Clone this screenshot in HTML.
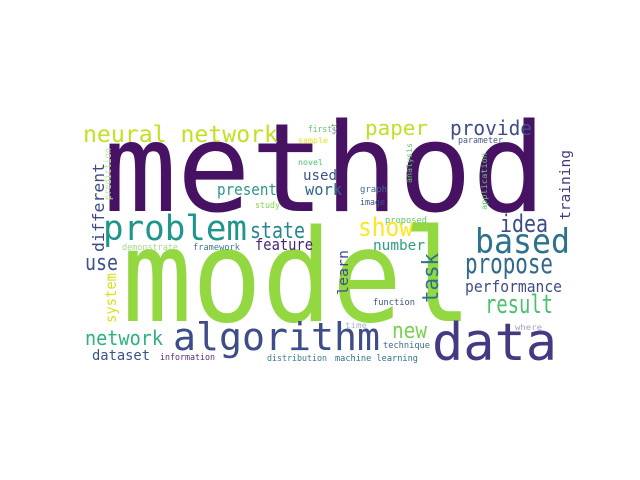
<!DOCTYPE html>
<html><head><meta charset="utf-8"><style>html,body{margin:0;padding:0;background:#fff}svg{display:block}text{font-family:"DejaVu Sans Mono","Liberation Mono",monospace}</style></head>
<body>
<svg width="640" height="480" viewBox="0 0 640 480" xmlns="http://www.w3.org/2000/svg">
<rect width="640" height="480" fill="#fff"/>
<g lengthAdjust="spacingAndGlyphs">
<text x="103" y="211" font-size="123" fill="#471164" textLength="443" lengthAdjust="spacingAndGlyphs">method</text>
<text x="122" y="321" font-size="128" fill="#93d741" textLength="350" lengthAdjust="spacingAndGlyphs">model</text>
<text x="83" y="142" font-size="23" fill="#c6e021" textLength="195" lengthAdjust="spacingAndGlyphs">neural network</text>
<text x="103" y="240" font-size="35" fill="#1f968b" textLength="144" lengthAdjust="spacingAndGlyphs">problem</text>
<text x="250" y="238" font-size="22" fill="#24878e" textLength="55" lengthAdjust="spacingAndGlyphs">state</text>
<text x="255" y="250" font-size="16" fill="#482475" textLength="58" lengthAdjust="spacingAndGlyphs">feature</text>
<text transform="translate(104,252) rotate(-90)" font-size="16" fill="#3e4989" textLength="89" lengthAdjust="spacingAndGlyphs">different</text>
<text transform="translate(111,200) rotate(-90)" font-size="10" fill="#bfe3a0" textLength="52" lengthAdjust="spacingAndGlyphs">prediction</text>
<text x="85" y="270" font-size="22" fill="#3b528b" textLength="33" lengthAdjust="spacingAndGlyphs">use</text>
<text transform="translate(116,323) rotate(-90)" font-size="15" fill="#d8e219" textLength="50" lengthAdjust="spacingAndGlyphs">system</text>
<text x="85" y="345" font-size="20" fill="#2db27d" textLength="78" lengthAdjust="spacingAndGlyphs">network</text>
<text x="92" y="360" font-size="14" fill="#3b528b" textLength="58" lengthAdjust="spacingAndGlyphs">dataset</text>
<text x="160" y="360" font-size="9" fill="#5c2d7e" textLength="55" lengthAdjust="spacingAndGlyphs">information</text>
<text x="122" y="250" font-size="9" fill="#a5dc8a" textLength="56" lengthAdjust="spacingAndGlyphs">demonstrate</text>
<text x="193" y="250" font-size="9" fill="#3e7a8e" textLength="47" lengthAdjust="spacingAndGlyphs">framework</text>
<text x="173" y="350" font-size="38" fill="#3e4c8a" textLength="207" lengthAdjust="spacingAndGlyphs">algorithm</text>
<text x="217" y="195" font-size="16" fill="#2a968b" textLength="60" lengthAdjust="spacingAndGlyphs">present</text>
<text x="303" y="180" font-size="14" fill="#3b528b" textLength="34" lengthAdjust="spacingAndGlyphs">used</text>
<text x="305" y="195" font-size="16" fill="#31688e" textLength="37" lengthAdjust="spacingAndGlyphs">work</text>
<text x="308" y="132" font-size="9" fill="#5ec962" textLength="24" lengthAdjust="spacingAndGlyphs">first</text>
<text transform="translate(337,135) rotate(-90)" font-size="8" fill="#6a7a8e" textLength="12" lengthAdjust="spacingAndGlyphs">set</text>
<text x="298" y="143" font-size="8" fill="#e5e419" textLength="30" lengthAdjust="spacingAndGlyphs">sample</text>
<text x="298" y="165" font-size="8" fill="#4ac16d" textLength="25" lengthAdjust="spacingAndGlyphs">novel</text>
<text x="255" y="208" font-size="9" fill="#86d549" textLength="25" lengthAdjust="spacingAndGlyphs">study</text>
<text x="365" y="135" font-size="20" fill="#c2df23" textLength="63" lengthAdjust="spacingAndGlyphs">paper</text>
<text x="450" y="135" font-size="20" fill="#3e4c8a" textLength="82" lengthAdjust="spacingAndGlyphs">provide</text>
<text x="458" y="143" font-size="9" fill="#46568c" textLength="45" lengthAdjust="spacingAndGlyphs">parameter</text>
<text transform="translate(412,183) rotate(-90)" font-size="8" fill="#5ec962" textLength="40" lengthAdjust="spacingAndGlyphs">analysis</text>
<text x="360" y="192" font-size="9" fill="#3e6a8d" textLength="27" lengthAdjust="spacingAndGlyphs">graph</text>
<text x="360" y="205" font-size="9" fill="#3b528b" textLength="25" lengthAdjust="spacingAndGlyphs">image</text>
<text transform="translate(487,210) rotate(-90)" font-size="8" fill="#5ec962" textLength="57" lengthAdjust="spacingAndGlyphs">application</text>
<text transform="translate(570,220) rotate(-90)" font-size="14" fill="#443a83" textLength="70" lengthAdjust="spacingAndGlyphs">training</text>
<text x="385" y="223" font-size="9" fill="#5ec962" textLength="42" lengthAdjust="spacingAndGlyphs">proposed</text>
<text x="358" y="236" font-size="26" fill="#fde725" textLength="55" lengthAdjust="spacingAndGlyphs">show</text>
<text x="500" y="232" font-size="24" fill="#3e4c8a" textLength="48" lengthAdjust="spacingAndGlyphs">idea</text>
<text x="475" y="253" font-size="34" fill="#2c728e" textLength="95" lengthAdjust="spacingAndGlyphs">based</text>
<text x="373" y="250" font-size="14" fill="#2ca07f" textLength="52" lengthAdjust="spacingAndGlyphs">number</text>
<text transform="translate(348,295) rotate(-90)" font-size="14" fill="#3e4c8a" textLength="45" lengthAdjust="spacingAndGlyphs">learn</text>
<text transform="translate(438,303) rotate(-90)" font-size="22" fill="#2c728e" textLength="50" lengthAdjust="spacingAndGlyphs">task</text>
<text x="465" y="273" font-size="28" fill="#31688e" textLength="88" lengthAdjust="spacingAndGlyphs">propose</text>
<text x="465" y="292" font-size="16" fill="#3e4c8a" textLength="97" lengthAdjust="spacingAndGlyphs">performance</text>
<text x="485" y="313" font-size="26" fill="#4ac16d" textLength="68" lengthAdjust="spacingAndGlyphs">result</text>
<text x="373" y="305" font-size="9" fill="#3b528b" textLength="42" lengthAdjust="spacingAndGlyphs">function</text>
<text x="392" y="338" font-size="22" fill="#7ad151" textLength="35" lengthAdjust="spacingAndGlyphs">new</text>
<text x="345" y="328" font-size="8" fill="#a8b8c8" textLength="22" lengthAdjust="spacingAndGlyphs">time</text>
<text x="515" y="330" font-size="8" fill="#a0a0c8" textLength="27" lengthAdjust="spacingAndGlyphs">where</text>
<text x="383" y="348" font-size="9" fill="#3e6a8d" textLength="47" lengthAdjust="spacingAndGlyphs">technique</text>
<text x="432" y="360" font-size="52" fill="#443983" textLength="125" lengthAdjust="spacingAndGlyphs">data</text>
<text x="335" y="361" font-size="9" fill="#2c728e" textLength="83" lengthAdjust="spacingAndGlyphs">machine learning</text>
<text x="267" y="361" font-size="9" fill="#3e7a8e" textLength="60" lengthAdjust="spacingAndGlyphs">distribution</text>
</g>
</svg>
</body></html>
